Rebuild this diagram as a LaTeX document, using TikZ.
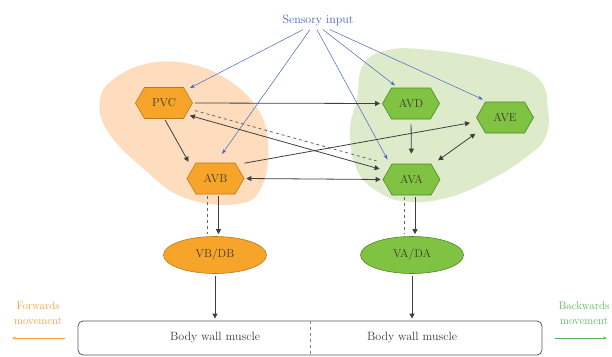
\documentclass[tikz,border=0pt]{standalone}
\usetikzlibrary{shapes.symbols,shapes.geometric,arrows.meta}
\definecolor{orfill}{HTML}{F6A52A}
\definecolor{ordraw}{HTML}{B8791A}
\definecolor{orblob}{HTML}{FDDDBD}
\definecolor{grfill}{HTML}{80C241}
\definecolor{grdraw}{HTML}{4D8A22}
\definecolor{grblob}{HTML}{DDEBCB}
\definecolor{sensblue}{HTML}{4466C0}
\definecolor{fwdor}{HTML}{F5A33A}
\definecolor{bwdgr}{HTML}{58B85A}
\definecolor{txt}{HTML}{3A3A2E}
\tikzset{
  hexo/.style={signal, signal to=east and west, signal pointer angle=120,
    minimum width=57pt, minimum height=31pt, inner sep=0pt, line width=0.6pt,
    font=\fontsize{11.5}{13}\selectfont, text=txt},
  ornode/.style={hexo, fill=orfill, draw=ordraw},
  grnode/.style={hexo, fill=grfill, draw=grdraw},
  ellnode/.style={ellipse, minimum width=103pt, minimum height=37pt, inner sep=0pt,
    line width=0.6pt, font=\fontsize{11.5}{13}\selectfont, text=txt},
  tri/.tip={Triangle[length=5pt,width=5pt]},
  conn/.style={draw=black!75, line width=0.8pt, shorten >=2pt, shorten <=2pt},
  sens/.style={draw=sensblue, line width=0.5pt, -{Stealth[length=5pt,width=3.5pt]}},
  lbl/.style={font=\fontsize{12}{14}\selectfont, inner sep=1pt},
}
\begin{document}
\begin{tikzpicture}[x=1pt,y=-1pt]
\useasboundingbox (0,0) rectangle (612,356);
% blobs
\fill[orblob] plot[smooth cycle, tension=0.7] coordinates {(100,100) (108,132) (145,170) (185,198) (238,204) (262,186) (268,140) (255,105) (225,78) (190,64) (150,63) (115,78)};
\fill[grblob] plot[smooth cycle, tension=0.7] coordinates {(350,130) (357,100) (363,65) (388,50) (430,50) (490,60) (537,77) (548,110) (545,138) (525,158) (490,180) (450,197) (410,202) (380,193) (357,170)};
% nodes
\node[lbl, text=sensblue] (si) at (318,20) {Sensory input};
\node[ornode] (pvc) at (164,103) {PVC};
\node[ornode] (avb) at (215.5,178.5) {AVB};
\node[grnode] (avd) at (411,103.5) {AVD};
\node[grnode] (ave) at (505,117.5) {AVE};
\node[grnode] (ava) at (411.5,179.5) {AVA};
\node[ellnode, fill=orfill, draw=ordraw] (vbdb) at (215,255) {VB/DB};
\node[ellnode, fill=grfill, draw=grdraw] (vada) at (412,255) {VA/DA};
\node[draw=black!65, line width=0.8pt, rounded corners=5pt, minimum width=464pt, minimum height=34pt] (muscle) at (310,338) {};
\node[lbl, text=txt] (m1) at (vbdb |- muscle) {Body wall muscle};
\node[lbl, text=txt] (m2) at (vada |- muscle) {Body wall muscle};
\draw[black!50, dashed, line width=0.5pt] (muscle.north) -- (muscle.south);
\node[lbl, text=fwdor, align=center, font=\fontsize{11}{15}\selectfont] (fwd) at (38,313) {Forwards\\movement};
\node[lbl, text=bwdgr, align=center, font=\fontsize{11}{15}\selectfont] (bwd) at (584,313) {Backwards\\movement};
\coordinate (fwdA) at (65,338);
\coordinate (fwdB) at (12,338);
\coordinate (bwdA) at (555,338);
\coordinate (bwdB) at (607,338);
\draw[fwdor, line width=0.6pt, -{Stealth[length=4pt,width=3pt]}] (fwdA) -- (fwdB);
\draw[bwdgr, line width=0.6pt, -{Stealth[length=4pt,width=3pt]}] (bwdA) -- (bwdB);
% sensory arrows
\draw[sens] ([shift={(-15,3)}]si.south) -- ([shift={(26,-15)}]pvc.center);
\draw[sens] ([shift={(-8,3)}]si.south) -- ([shift={(6.5,-24.5)}]avb.center);
\draw[sens] ([shift={(-1,3)}]si.south) -- ([shift={(-24,-20)}]ava.center);
\draw[sens] ([shift={(5,3)}]si.south) -- ([shift={(-16,-18)}]avd.center);
\draw[sens] ([shift={(12,3)}]si.south) -- ([shift={(-22,-18)}]ave.center);
% black connectors
\draw[conn,-tri] (pvc.east) -- (avd.west);
\draw[conn,-tri] ([shift={(0,15)}]pvc.center) -- ([shift={(-26,-15)}]avb.center);
\draw[conn,tri-tri] ([shift={(24,12)}]pvc.center) -- ([shift={(-30,-10)}]ava.center);
\draw[conn,dashed,black!60] ([shift={(29,7)}]pvc.center) -- ([shift={(-33,-18)}]ava.center);
\draw[conn,tri-tri] (avb.east) -- (ava.west);
\draw[conn,-tri] ([shift={(27,-15)}]avb.center) -- ([shift={(-33,5)}]ave.center);
\draw[conn,tri-tri] ([shift={(-28,15)}]ave.center) -- ([shift={(25,-18)}]ava.center);
\draw[conn,-tri, shorten <=5pt, shorten >=10pt] (avd.south) -- (ava.north);
\draw[conn,-tri] ([xshift=3pt]avb.south) -- ([xshift=3pt]avb.south |- vbdb.north);
\draw[conn,dashed,black!60] ([xshift=-8pt]avb.south) -- ([xshift=-8pt]avb.south |- vbdb.north);
\draw[conn,-tri] ([xshift=3.5pt]ava.south) -- ([xshift=3.5pt]ava.south |- vada.north);
\draw[conn,dashed,black!60] ([xshift=-7.5pt]ava.south) -- ([xshift=-7.5pt]ava.south |- vada.north);
\draw[conn,-tri] (vbdb.south) -- (vbdb |- muscle.north);
\draw[conn,-tri] (vada.south) -- (vada |- muscle.north);
\end{tikzpicture}
\end{document}
